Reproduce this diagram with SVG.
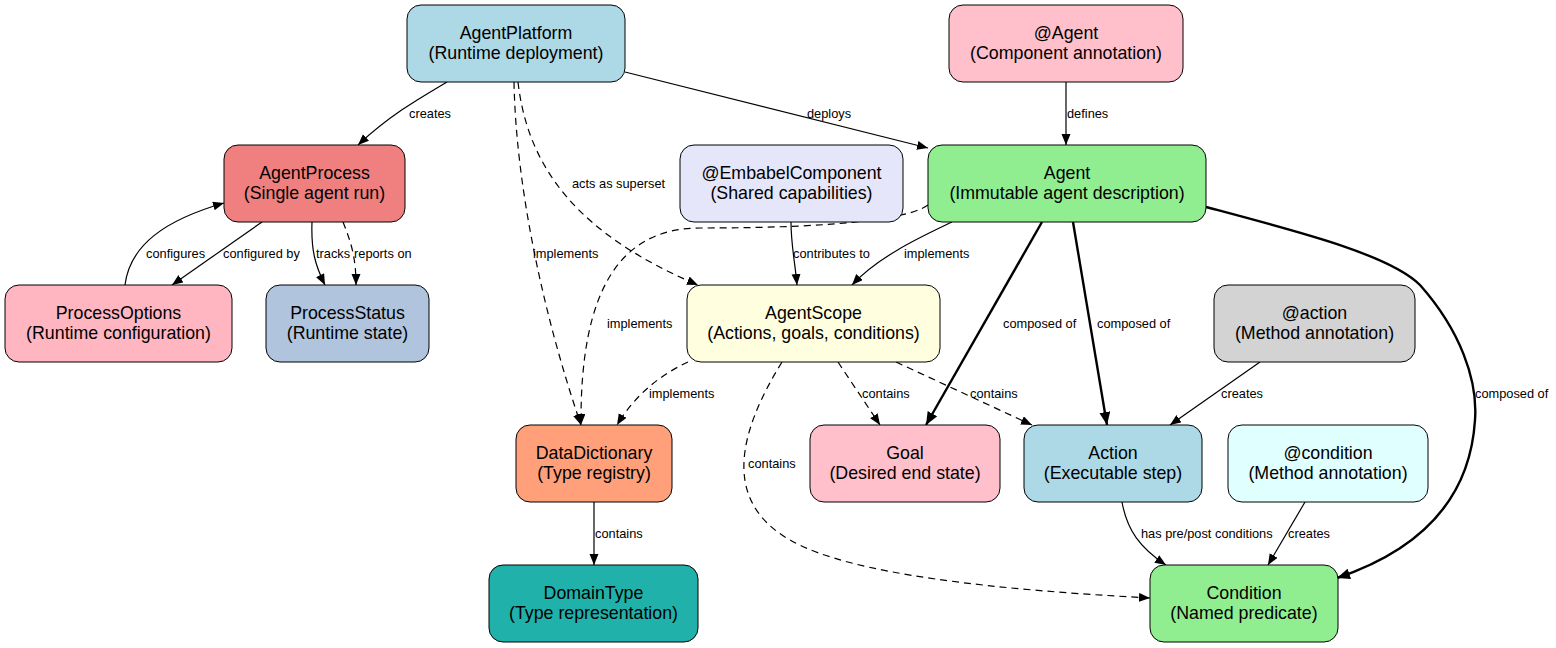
<svg xmlns="http://www.w3.org/2000/svg" width="1556" height="648" viewBox="0 0 1556 648">
<style>
.n rect{stroke:#000;stroke-width:1}
.n text{font-family:"Liberation Sans",Arial,sans-serif;font-size:17.8px;text-anchor:middle;fill:#000}
.e path{fill:none;stroke:#000;stroke-width:1.2}
.e .d{stroke-dasharray:7,5}
.e .b{stroke-width:2.4}
.l text{font-family:"Liberation Sans",Arial,sans-serif;font-size:12.8px;fill:#000}
</style>
<defs>
<marker id="a" markerUnits="userSpaceOnUse" markerWidth="12" markerHeight="10" refX="11" refY="4.5" orient="auto"><path d="M0,0 L11,4.5 L0,9 z" fill="#000"/></marker>
<marker id="ab" markerUnits="userSpaceOnUse" markerWidth="14" markerHeight="12" refX="13" refY="5.5" orient="auto"><path d="M0,0 L13,5.5 L0,11 z" fill="#000"/></marker>
</defs>
<rect width="1556" height="648" fill="#fff"/>
<g id="connectors" class="e">
<path d="M447,82 C420,98 390,115 358,145" marker-end="url(#a)"/>
<path d="M625,72 L928,148" marker-end="url(#a)"/>
<path class="d" d="M514,82 C516,190 545,320 581,425" marker-end="url(#a)"/>
<path class="d" d="M518,82 C528,170 580,235 698,285" marker-end="url(#a)"/>
<path d="M1066,82 L1066,145" marker-end="url(#a)"/>
<path d="M262,222 L172,285" marker-end="url(#a)"/>
<path d="M125,285 C130,245 165,220 224,203" marker-end="url(#a)"/>
<path d="M312,222 C311,250 315,265 325,285" marker-end="url(#a)"/>
<path class="d" d="M343,222 C350,240 356,255 356,285" marker-end="url(#a)"/>
<path d="M791,222 C791,245 795,262 797,285" marker-end="url(#a)"/>
<path d="M952,222 C925,235 880,255 852,285" marker-end="url(#a)"/>
<path class="d" d="M928,205 C900,225 780,228 700,228 C620,228 580,290 581,425" marker-end="url(#a)"/>
<path class="d" d="M688,362 C660,375 635,395 617,425" marker-end="url(#a)"/>
<path class="d" d="M838,362 L880,425" marker-end="url(#a)"/>
<path class="d" d="M896,362 L1032,425" marker-end="url(#a)"/>
<path class="d" d="M782,362 C740,430 720,500 790,540 C850,575 1000,590 1150,598" marker-end="url(#a)"/>
<path class="b" d="M1042,222 L926,425" marker-end="url(#ab)"/>
<path class="b" d="M1073,222 L1107,425" marker-end="url(#ab)"/>
<path class="b" d="M1206,207 C1300,232 1390,255 1420,285 C1460,330 1478,380 1475,420 C1470,500 1420,550 1337,578" marker-end="url(#ab)"/>
<path d="M1260,362 L1170,425" marker-end="url(#a)"/>
<path d="M1122,502 C1127,530 1140,548 1166,565" marker-end="url(#a)"/>
<path d="M1305,502 L1268,565" marker-end="url(#a)"/>
<path d="M594,502 L594,565" marker-end="url(#a)"/>
</g>
<g id="labels" class="l">
<text x="409" y="117.5">creates</text>
<text x="807" y="117.5">deploys</text>
<text x="1067" y="117.5">defines</text>
<text x="572" y="187.5">acts as superset</text>
<text x="146" y="257.5">configures</text>
<text x="223" y="257.5">configured by</text>
<text x="316" y="257.5">tracks</text>
<text x="354" y="257.5">reports on</text>
<text x="533" y="257.5">implements</text>
<text x="793" y="257.5">contributes to</text>
<text x="904" y="257.5">implements</text>
<text x="607" y="327.5">implements</text>
<text x="1003" y="327.5">composed of</text>
<text x="1097" y="327.5">composed of</text>
<text x="649" y="397.5">implements</text>
<text x="862" y="397.5">contains</text>
<text x="970" y="397.5">contains</text>
<text x="1221" y="397.5">creates</text>
<text x="1475" y="397.5">composed of</text>
<text x="748" y="467.5">contains</text>
<text x="595" y="537.5">contains</text>
<text x="1141" y="537.5">has pre/post conditions</text>
<text x="1288" y="537.5">creates</text>
</g>
<g id="AgentPlatform" class="n"><rect x="407" y="5" width="218" height="77" rx="14" fill="#ADD8E6"/><text x="516" y="39">AgentPlatform</text><text x="516" y="59">(Runtime deployment)</text></g>
<g id="AgentAnnotation" class="n"><rect x="949" y="5" width="234" height="77" rx="14" fill="#FFC0CB"/><text x="1066" y="39">@Agent</text><text x="1066" y="59">(Component annotation)</text></g>
<g id="AgentProcess" class="n"><rect x="224" y="145" width="181" height="77" rx="14" fill="#F08080"/><text x="314.5" y="179">AgentProcess</text><text x="314.5" y="199">(Single agent run)</text></g>
<g id="EmbabelComponent" class="n"><rect x="680" y="145" width="223" height="77" rx="14" fill="#E6E6FA"/><text x="791.5" y="179">@EmbabelComponent</text><text x="791.5" y="199">(Shared capabilities)</text></g>
<g id="Agent" class="n"><rect x="928" y="145" width="278" height="77" rx="14" fill="#90EE90"/><text x="1067" y="179">Agent</text><text x="1067" y="199">(Immutable agent description)</text></g>
<g id="ProcessOptions" class="n"><rect x="5" y="285" width="227" height="77" rx="14" fill="#FFB6C1"/><text x="118.5" y="319">ProcessOptions</text><text x="118.5" y="339">(Runtime configuration)</text></g>
<g id="ProcessStatus" class="n"><rect x="266" y="285" width="163" height="77" rx="14" fill="#B0C4DE"/><text x="347.5" y="319">ProcessStatus</text><text x="347.5" y="339">(Runtime state)</text></g>
<g id="AgentScope" class="n"><rect x="687" y="285" width="253" height="77" rx="14" fill="#FFFFE0"/><text x="813.5" y="319">AgentScope</text><text x="813.5" y="339">(Actions, goals, conditions)</text></g>
<g id="ActionAnnotation" class="n"><rect x="1214" y="285" width="201" height="77" rx="14" fill="#D3D3D3"/><text x="1314.5" y="319">@action</text><text x="1314.5" y="339">(Method annotation)</text></g>
<g id="DataDictionary" class="n"><rect x="516" y="425" width="156" height="77" rx="14" fill="#FFA07A"/><text x="594" y="459">DataDictionary</text><text x="594" y="479">(Type registry)</text></g>
<g id="Goal" class="n"><rect x="810" y="425" width="190" height="77" rx="14" fill="#FFC0CB"/><text x="905" y="459">Goal</text><text x="905" y="479">(Desired end state)</text></g>
<g id="Action" class="n"><rect x="1024" y="425" width="178" height="77" rx="14" fill="#ADD8E6"/><text x="1113" y="459">Action</text><text x="1113" y="479">(Executable step)</text></g>
<g id="ConditionAnnotation" class="n"><rect x="1228" y="425" width="200" height="77" rx="14" fill="#E0FFFF"/><text x="1328" y="459">@condition</text><text x="1328" y="479">(Method annotation)</text></g>
<g id="DomainType" class="n"><rect x="489" y="565" width="209" height="77" rx="14" fill="#20B2AA"/><text x="593.5" y="599">DomainType</text><text x="593.5" y="619">(Type representation)</text></g>
<g id="Condition" class="n"><rect x="1150" y="565" width="188" height="77" rx="14" fill="#90EE90"/><text x="1244" y="599">Condition</text><text x="1244" y="619">(Named predicate)</text></g>
</svg>
